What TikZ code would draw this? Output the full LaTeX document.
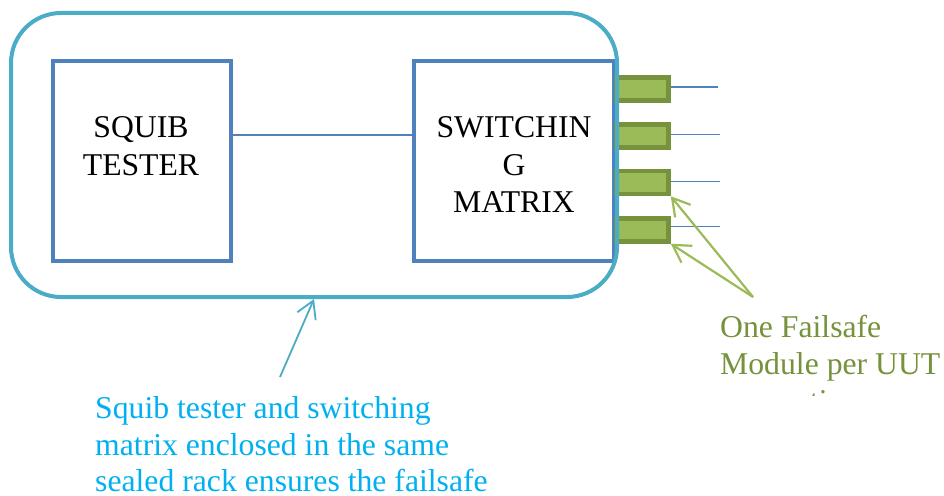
\documentclass[tikz,border=0pt]{standalone}
\usepackage{fontspec}
\setmainfont{Liberation Serif}
\usetikzlibrary{arrows.meta}
\definecolor{rackteal}{HTML}{4BACC6}
\definecolor{boxblue}{HTML}{4F81BD}
\definecolor{modfill}{HTML}{9BBB59}
\definecolor{modborder}{HTML}{76923C}
\definecolor{greentext}{HTML}{76923C}
\definecolor{cyantext}{HTML}{00B0F0}
\begin{document}
\begin{tikzpicture}[x=1pt,y=-1pt,
  unitbox/.style={draw=boxblue,line width=4pt,minimum width=178pt,minimum height=200pt,inner sep=0pt},
  module/.style={draw=modborder,fill=modfill,line width=4.5pt,minimum width=52pt,minimum height=23pt,inner sep=0pt},
  lbl/.style={inner sep=0pt,font=\fontsize{31.7}{37}\selectfont},
  wire/.style={draw=boxblue,line width=1.8pt},
  gpointer/.style={draw=modfill,line width=2.2pt,-{Straight Barb[length=17pt,width=20pt]}},
  bpointer/.style={draw=rackteal,line width=1.8pt,-{Straight Barb[length=17pt,width=20pt]}}]
\useasboundingbox[fill=white] (0,0) rectangle (944,495);

% inner boxes
\node[unitbox] (sq) at (142,161) {};
\node[unitbox,minimum width=200pt] (sw) at (514,161) {};
\node[lbl,anchor=base] (sq1) at (141,137) {SQUIB};
\node[lbl,anchor=base] (sq2) at (141,175) {TESTER};
\node[lbl,anchor=base] (sw1) at (514,137) {SWITCHIN};
\node[lbl,anchor=base] (sw2) at (514,175) {G};
\node[lbl,anchor=base] (sw3) at (514,212) {MATRIX};

\coordinate (ly) at (0,135);
\draw[wire,line width=1.5pt] (sq.east |- ly) -- (sw.west |- ly);

% failsafe modules
\node[module] (m1) at (642.5,89) {};
\node[module] (m2) at (642.5,136) {};
\node[module] (m3) at (642.5,182.5) {};
\node[module] (m4) at (642.5,230) {};
\coordinate (l1) at (718,87);
\coordinate (l2) at (720,134.5);
\coordinate (l3) at (720,181.5);
\coordinate (l4) at (720,226.5);
\draw[wire] (m1.east |- l1) -- (l1);
\draw[wire] (m2.east |- l2) -- (l2);
\draw[wire] (m3.east |- l3) -- (l3);
\draw[wire] (m4.east |- l4) -- (l4);

% rack
\node[draw=rackteal,line width=4pt,rounded corners=50pt,minimum width=606pt,minimum height=284pt,inner sep=0pt] (rack) at (314,155) {};

% green callout
\coordinate (g) at (753,297);
\draw[gpointer] (g) -- (m3.south east);
\draw[gpointer] (g) -- (m4.south east);
\node[lbl,anchor=base west,text=greentext] (gt1) at (720,337) {One Failsafe};
\node[lbl,anchor=base west,text=greentext] (gt2) at (720,374) {Module per UUT};
\begin{scope}
\clip (700,380) rectangle (944,395);
\node[lbl,anchor=base west,text=greentext] (gt3) at (720,411) {connection};
\end{scope}

% blue callout
\coordinate (b) at (280,377);
\draw[bpointer] (b) -- (rack.south);
\node[lbl,anchor=base west,text=cyantext] (bt1) at (95,418) {Squib tester and switching};
\node[lbl,anchor=base west,text=cyantext] (bt2) at (95,455) {matrix enclosed in the same};
\node[lbl,anchor=base west,text=cyantext] (bt3) at (95,491) {sealed rack ensures the failsafe};
\end{tikzpicture}
\end{document}
